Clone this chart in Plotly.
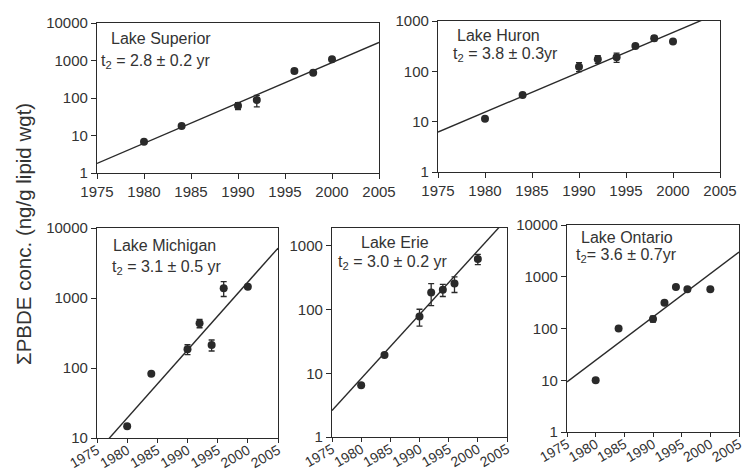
import numpy as np
import plotly.graph_objects as go

# ---- data: sampling years, ΣPBDE concentrations (ng/g lipid wgt) and ± errors ----
years_sup = [1980, 1984, 1990, 1992, 1996, 1998, 2000]
conc_sup = [6.8, 18, 62, 88, 525, 470, 1080]
err_sup = [0, 0, 13, 30, 60, 0, 100]

years_hur = [1980, 1984, 1990, 1992, 1994, 1996, 1998, 2000]
conc_hur = [11.4, 34, 124, 174, 190, 318, 455, 390]
err_hur = [0, 0, 25, 30, 40, 0, 50, 0]

years_mic = [1980, 1984, 1990, 1992, 1994, 1996, 2000]
conc_mic = [14.7, 83, 185, 436, 213, 1380, 1450]
err_mic = [0, 0, 30, 60, 38, 330, 0]

years_eri = [1980, 1984, 1990, 1992, 1994, 1996, 2000]
conc_eri = [6.5, 19.4, 78, 185, 204, 255, 620]
err_eri = [0, 0, 23, 70, 44, 70, 115]

years_ont = [1980, 1984, 1990, 1992, 1994, 1996, 2000]
conc_ont = [10, 100, 153, 313, 633, 575, 575]
err_ont = [0, 0, 20, 0, 0, 40, 0]

# exponential fits: doubling time t2 (yr) and fitted value in 1975
lake_names = ["Lake Superior", "Lake Huron", "Lake Michigan", "Lake Erie", "Lake Ontario"]
t2_text = ["t<sub>2</sub> = 2.8 ± 0.2 yr", "t<sub>2</sub> = 3.8 ± 0.3yr",
           "t<sub>2</sub> = 3.1 ± 0.5 yr", "t<sub>2</sub> = 3.0 ± 0.2 yr",
           "t<sub>2</sub>= 3.6 ± 0.7yr"]
t2_years = [2.8, 3.8, 3.1, 3.0, 3.6]
fit_1975 = [1.8, 6.2, 6.3, 2.6, 9.3]

W, H = 744, 471
INK = "#2a2a2a"
FONT = "Liberation Sans, Arial, sans-serif"

# panel boxes in pixels: left, right, top, bottom
boxes = [(97, 379, 23, 173), (438, 720, 21, 172), (97, 278, 228, 438),
         (332, 507, 228, 437), (567, 739, 225, 432)]
yranges = [(0, 4), (0, 3), (1, 4), (0, np.log10(1900)), (0, 4)]
ytickvals = [[1, 10, 100, 1000, 10000], [1, 10, 100, 1000], [10, 100, 1000, 10000],
             [1, 10, 100, 1000], [1, 10, 100, 1000, 10000]]
tickangles = [0, 0, -30, -30, -30]
xticklens = [5, 5, 4, 4, 4]
xtickfont = [15, 15, 14, 14, 14]
xstandoff = [0, 0, -6, -6, -6]
# label anchors (left x, centre y of first and second line) in pixels
label_pos = [(110, 39, 100, 62), (456, 36, 452, 55), (112, 245, 111, 267),
             (360, 242, 337, 262), (580, 237, 575, 255)]

series = [(years_sup, conc_sup, err_sup), (years_hur, conc_hur, err_hur),
          (years_mic, conc_mic, err_mic), (years_eri, conc_eri, err_eri),
          (years_ont, conc_ont, err_ont)]

fig = go.Figure()
annotations = []
for i, ((yrs, conc, err), box) in enumerate(zip(series, boxes)):
    ax = "" if i == 0 else str(i + 1)
    xa, ya = "x" + ax, "y" + ax
    # fitted exponential growth line
    fx = np.array([1975.0, 2005.0])
    fy = fit_1975[i] * 2 ** ((fx - 1975) / t2_years[i])
    fig.add_trace(go.Scatter(x=fx, y=fy, mode="lines", xaxis=xa, yaxis=ya,
                             line=dict(color=INK, width=1.4), showlegend=False,
                             hoverinfo="skip"))
    fig.add_trace(go.Scatter(x=yrs, y=conc, mode="markers", xaxis=xa, yaxis=ya,
                             marker=dict(color=INK, size=8, line=dict(width=0)),
                             error_y=dict(type="data", array=err, visible=True,
                                          color=INK, thickness=1.3, width=3),
                             showlegend=False, cliponaxis=False))
    l, r, t, b = box
    axis_common = dict(showline=True, linecolor=INK, linewidth=1.2, mirror=True,
                       ticks="outside", tickcolor=INK, tickwidth=1.2,
                       showgrid=False, zeroline=False, automargin=False,
                       ticklabeloverflow="allow")
    fig.layout["xaxis" + ax] = dict(domain=[l / W, r / W], anchor=ya,
                                    range=[1975, 2005], dtick=5, tick0=1975,
                                    tickangle=tickangles[i], ticklen=xticklens[i],
                                    ticklabelstandoff=xstandoff[i],
                                    tickfont=dict(family=FONT, size=xtickfont[i],
                                                  color="#333333"),
                                    **axis_common)
    lo, hi = yranges[i]
    fig.layout["yaxis" + ax] = dict(domain=[1 - b / H, 1 - t / H], anchor=xa,
                                    type="log", range=[lo, hi],
                                    tickvals=ytickvals[i],
                                    ticktext=[str(v) for v in ytickvals[i]],
                                    ticklen=5,
                                    tickfont=dict(family=FONT, size=15, color="#333333"),
                                    **axis_common)
    lx1, ly1, lx2, ly2 = label_pos[i]
    annotations.append(dict(text=lake_names[i], x=lx1 / W, y=1 - ly1 / H,
                            xref="paper", yref="paper", xanchor="left",
                            yanchor="middle", showarrow=False, borderpad=0,
                            font=dict(family=FONT, size=16, color="#333333")))
    annotations.append(dict(text=t2_text[i], x=lx2 / W, y=1 - ly2 / H,
                            xref="paper", yref="paper", xanchor="left",
                            yanchor="middle", showarrow=False, borderpad=0,
                            font=dict(family=FONT, size=16, color="#333333")))

annotations.append(dict(text="ΣPBDE conc. (ng/g lipid wgt)", x=23 / W, y=1 - 234 / H,
                        xref="paper", yref="paper", xanchor="center",
                        yanchor="middle", textangle=-90, showarrow=False,
                        font=dict(family=FONT, size=20.5, color="#333333")))

fig.update_layout(width=W, height=H, margin=dict(l=0, r=0, t=0, b=0),
                  paper_bgcolor="white", plot_bgcolor="white",
                  annotations=annotations)

fig.write_html("out.html")
